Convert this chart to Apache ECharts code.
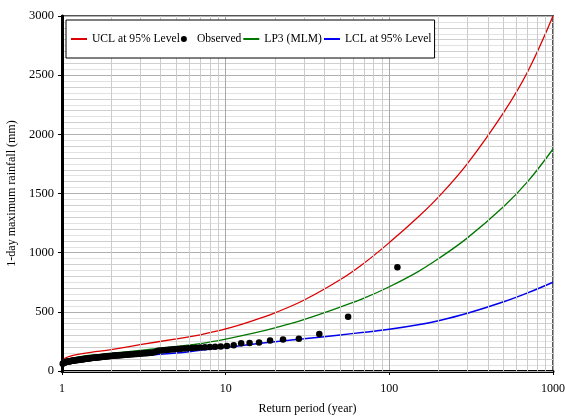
<!DOCTYPE html>
<html>
<head>
<meta charset="utf-8">
<script src="https://cdn.jsdelivr.net/npm/echarts@6/dist/echarts.min.js"></script>
<style>html,body{margin:0;padding:0;background:#fff}#c{width:565px;height:417px}</style>
</head>
<body>
<div id="c"></div>
<script>
// Return periods (years) at which the fitted curves are read
var curveT = [1.001, 1.05, 1.1, 1.25, 1.5, 2, 3, 5, 7, 10, 15, 20, 30, 50, 70, 100, 150, 200, 300, 500, 700, 1000];
var uclValues = [85, 110, 122, 140, 158, 180, 222, 272, 306, 355, 430, 492, 598, 771, 911, 1085, 1301, 1471, 1753, 2186, 2529, 3000];
var lp3Values = [70, 92, 102, 118, 133, 150, 175, 208, 232, 270, 322, 365, 435, 540, 615, 712, 840, 950, 1125, 1390, 1600, 1876];
var lclValues = [45, 72, 82, 95, 108, 120, 132, 152, 175, 198, 228, 248, 272, 305, 327, 352, 390, 425, 488, 585, 660, 750];

// Observed annual maxima (plotting-position return period, rainfall mm)
var obsT = [112, 56, 37.33, 28, 22.4, 18.67, 16, 14, 12.44, 11.2, 10.18, 9.33, 8.62, 8, 7.47, 7, 6.59, 6.22, 5.89, 5.6,
  5.33, 5.09, 4.87, 4.67, 4.48, 4.31, 4.15, 4, 3.86, 3.73, 3.61, 3.5, 3.39, 3.29, 3.2, 3.11, 3.03, 2.95, 2.87, 2.8,
  2.73, 2.67, 2.6, 2.55, 2.49, 2.43, 2.38, 2.33, 2.29, 2.24, 2.2, 2.15, 2.11, 2.07, 2.04, 2, 1.96, 1.93, 1.9, 1.87,
  1.84, 1.81, 1.78, 1.75, 1.72, 1.7, 1.67, 1.65, 1.62, 1.6, 1.58, 1.56, 1.53, 1.51, 1.49, 1.47, 1.45, 1.44, 1.42, 1.4,
  1.38, 1.37, 1.35, 1.33, 1.32, 1.3, 1.29, 1.27, 1.26, 1.24, 1.23, 1.22, 1.2, 1.19, 1.18, 1.17, 1.15, 1.14, 1.13, 1.12,
  1.11, 1.1, 1.09, 1.08, 1.07, 1.06, 1.05, 1.04, 1.03, 1.02, 1.01];
var obsValues = [876, 459, 313, 272, 266, 258, 240, 237, 234, 218, 211, 208, 205, 203, 200, 198, 196, 194, 192, 190,
  188, 186, 184, 182, 180, 178, 176, 174, 172, 160, 157, 155, 153, 151, 150, 148, 147, 146, 144, 143,
  142, 141, 140, 139, 138, 137, 136, 135, 134, 133, 132, 131, 130, 129, 128, 127, 126, 125, 124, 123,
  122, 121, 120, 119, 118, 117, 116, 115, 114, 113, 112, 111, 110, 109, 108, 107, 106, 105, 104, 103,
  102, 101, 100, 99, 98, 97, 96, 95, 94, 93, 92, 91, 90, 89, 88, 87, 86, 85, 84, 83,
  82, 81, 80, 79, 78, 76, 74, 72, 70, 67, 62];

// Minor vertical grid positions on the log axis
var minorGridT = [2, 3, 4, 5, 6, 7, 8, 9, 20, 30, 40, 50, 60, 70, 80, 90, 200, 300, 400, 500, 600, 700, 800, 900];

var seriesNames = ['UCL at 95% Level', 'Observed', 'LP3 (MLM)', 'LCL at 95% Level'];

function pairs(xs, ys) { return xs.map(function (x, i) { return [x, ys[i]]; }); }

var font = 'Liberation Serif';
var hideDot = {opacity: 0, color: 'rgba(0,0,0,0)'};
var chart = echarts.init(document.getElementById('c'), null, {renderer: 'canvas'});
chart.setOption({
  animation: false,
  textStyle: {fontFamily: font, color: '#000'},
  grid: {left: 62, right: 12, top: 16, bottom: 46, containLabel: false, outerBoundsMode: 'none',
    show: true, borderColor: '#555', borderWidth: 2, backgroundColor: '#fff'},
  legend: {
    data: [
      {name: seriesNames[0], itemStyle: hideDot},
      {name: seriesNames[1]},
      {name: seriesNames[2], itemStyle: hideDot},
      {name: seriesNames[3], itemStyle: hideDot}
    ],
    left: 66, top: 20, orient: 'horizontal', z: 10,
    borderColor: '#000', borderWidth: 1, backgroundColor: '#fff',
    padding: [13, 3, 13, 4], itemGap: 1, itemWidth: 16, itemHeight: 6,
    textStyle: {fontFamily: font, fontSize: 11.6, color: '#000'}
  },
  xAxis: {
    type: 'log', logBase: 10, min: 1, max: 1000,
    name: 'Return period (year)', nameLocation: 'middle', nameGap: 32,
    nameTextStyle: {fontFamily: font, fontSize: 12, color: '#000'},
    axisLine: {show: true, onZero: false, lineStyle: {color: '#000', width: 3}},
    axisTick: {show: true, length: 4, lineStyle: {color: '#000', width: 1}},
    axisLabel: {fontFamily: font, fontSize: 12, color: '#000', margin: 12,
      formatter: function (v) { return String(Math.round(v)); }},
    splitLine: {show: true, lineStyle: {color: '#a8a8a8', width: 1}}
  },
  yAxis: [{
    type: 'value', min: 0, max: 3000, interval: 500,
    name: '1-day maximum rainfall (mm)', nameLocation: 'middle', nameGap: 44,
    nameTextStyle: {fontFamily: font, fontSize: 12, color: '#000'},
    axisLine: {show: true, lineStyle: {color: '#000', width: 3}},
    axisTick: {show: true, length: 4, lineStyle: {color: '#000', width: 1}},
    axisLabel: {fontFamily: font, fontSize: 12.5, color: '#000', margin: 8,
      formatter: function (v) { return String(v); }},
    splitLine: {show: true, lineStyle: {color: '#b0b0b0', width: 1}},
    z: 3
  }, {
    type: 'value', min: 0, max: 3000, interval: 100, position: 'left',
    axisLine: {show: false}, axisTick: {show: false}, axisLabel: {show: false},
    splitLine: {show: true, lineStyle: {color: '#cfcfcf', width: 1}},
    minorTick: {show: false, splitNumber: 2},
    minorSplitLine: {show: true, lineStyle: {color: '#e2e2e2', width: 1}},
    z: 0
  }],
  series: [{
    name: '_grid', type: 'line', data: [[1, 0]], symbol: 'none', silent: true, z: 1,
    lineStyle: {width: 0},
    markLine: {
      silent: true, symbol: 'none', label: {show: false}, animation: false,
      lineStyle: {color: '#cccccc', width: 1, type: 'solid'},
      data: minorGridT.map(function (t) { return {xAxis: t}; })
    }
  }, {
    name: seriesNames[0], type: 'line', data: pairs(curveT, uclValues), smooth: 0.4,
    symbol: 'none', lineStyle: {color: '#dd0000', width: 1.3}, itemStyle: {color: '#dd0000'}, z: 4
  }, {
    name: seriesNames[1], type: 'scatter', data: pairs(obsT, obsValues),
    symbol: 'circle', symbolSize: 6.5, itemStyle: {color: '#000', opacity: 1}, z: 6
  }, {
    name: seriesNames[2], type: 'line', data: pairs(curveT, lp3Values), smooth: 0.4,
    symbol: 'none', lineStyle: {color: '#007700', width: 1.3}, itemStyle: {color: '#007700'}, z: 4
  }, {
    name: seriesNames[3], type: 'line', data: pairs(curveT, lclValues), smooth: 0.4,
    symbol: 'none', lineStyle: {color: '#0000ee', width: 1.5}, itemStyle: {color: '#0000ee'}, z: 4
  }]
});
</script>
</body>
</html>
